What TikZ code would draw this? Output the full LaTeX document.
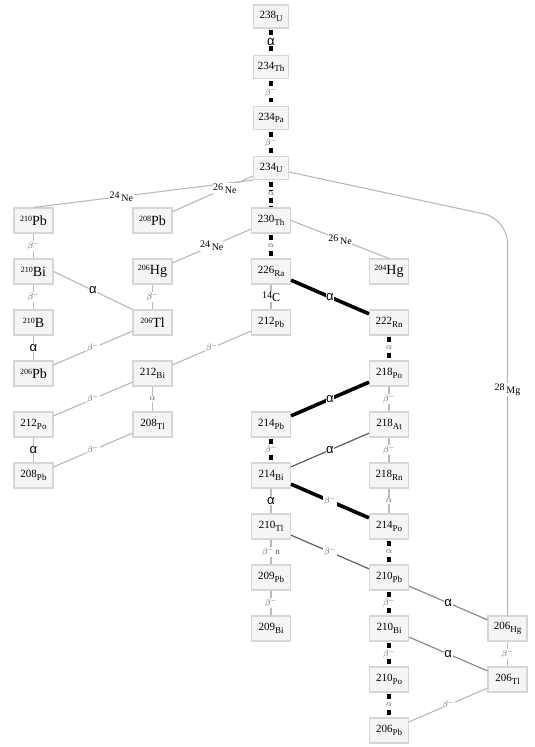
\documentclass[tikz,border=0pt]{standalone}
\usepackage{fontspec}
\setmainfont{Liberation Serif}
\newfontfamily\greekfont{Liberation Sans}
\definecolor{boxfill}{RGB}{245,245,245}
\definecolor{boxline}{RGB}{214,214,214}
\definecolor{faintline}{RGB}{185,185,185}
\definecolor{midline}{RGB}{140,140,140}
\definecolor{darkline}{RGB}{95,95,95}
\definecolor{lblgray}{RGB}{80,80,80}

% nuclide labels: mass number with lowered symbol, or raised mass number
\newcommand{\nuc}[2]{{\fontsize{11}{11}\selectfont #1}\raisebox{-2.5pt}{\fontsize{9}{9}\selectfont #2}}
\newcommand{\nucbig}[2]{\raisebox{4pt}{\fontsize{8}{8}\selectfont #1}{\fontsize{14}{14}\selectfont #2}}
% decay labels
\newcommand{\bdecay}{{\fontsize{9}{9}\selectfont$\beta^{-}$}}
\newcommand{\adecay}{{\fontsize{9}{9}\selectfont$\alpha$}}
\newcommand{\Adecay}{{\greekfont\fontsize{13}{13}\selectfont α}}
\newcommand{\cluster}[2]{\raisebox{3pt}{\fontsize{10}{10}\selectfont #1}\,{\fontsize{10}{10}\selectfont #2}}

\begin{document}
\begin{tikzpicture}[
  x=1pt, y=-1pt,
  nuclide/.style={draw=boxline, fill=boxfill, rectangle,
    minimum width=39pt, minimum height=25pt,
    inner sep=1pt, line width=1.1pt},
  topnuclide/.style={nuclide, minimum width=35pt, minimum height=23pt},
  mainpath/.style={draw=black, line width=4pt,
    dash pattern=on 5pt off 3pt, shorten >=1.5pt, shorten <=1.5pt},
  strong/.style={draw=black, line width=3.6pt},
  faint/.style={draw=faintline, line width=1.1pt},
  medium/.style={draw=midline, line width=1.2pt},
  dark/.style={draw=darkline, line width=1.2pt},
  lbl/.style={fill=white, inner sep=0.6pt, text=lblgray},
  lbla/.style={lbl, text=black}
]
\fill[white] (0,0) rectangle (535,747);
\useasboundingbox (0,0) rectangle (535,747);

% Main uranium chain, top part
\node[topnuclide] (u238) at (271,16.5) {\nuc{238}{U}};
\node[topnuclide] (th234) at (271,67) {\nuc{234}{Th}};
\node[topnuclide] (pa234) at (271,118) {\nuc{234}{Pa}};
\node[topnuclide] (u234) at (271,168) {\nuc{234}{U}};
\draw[mainpath] (u238) -- node[lbla]{\Adecay} (th234);
\draw[mainpath] (th234) -- node[lbl]{\bdecay} (pa234);
\draw[mainpath] (pa234) -- node[lbl]{\bdecay} (u234);

% Cluster decay side branches
\node[nuclide] (pb210a) at (33.5,220.5) {\nucbig{210}{Pb}};
\node[nuclide] (pb208a) at (152.5,220.5) {\nucbig{208}{Pb}};
\node[nuclide] (th230) at (271,220.5) {\nuc{230}{Th}};
\node[nuclide] (bi210a) at (33.5,271.5) {\nucbig{210}{Bi}};
\node[nuclide] (hg206a) at (152.5,271.5) {\nucbig{206}{Hg}};
\node[nuclide] (ra226) at (271,271.5) {\nuc{226}{Ra}};
\node[nuclide] (hg204) at (389,271.5) {\nucbig{204}{Hg}};
\node[nuclide] (b210) at (33.5,322.5) {\nucbig{210}{B}};
\node[nuclide] (tl206a) at (152.5,322.5) {\nucbig{206}{Tl}};
\node[nuclide] (pb212) at (271,322.5) {\nuc{212}{Pb}};
\node[nuclide] (rn222) at (389,322.5) {\nuc{222}{Rn}};
\node[nuclide] (pb206a) at (33.5,373.5) {\nucbig{206}{Pb}};
\node[nuclide] (bi212) at (152.5,373.5) {\nuc{212}{Bi}};
\node[nuclide] (po218) at (389,373.5) {\nuc{218}{Po}};
\node[nuclide] (po212) at (33.5,424.5) {\nuc{212}{Po}};
\node[nuclide] (tl208) at (152.5,424.5) {\nuc{208}{Tl}};
\node[nuclide] (pb214) at (271,424.5) {\nuc{214}{Pb}};
\node[nuclide] (at218) at (389,424.5) {\nuc{218}{At}};
\node[nuclide] (pb208b) at (33.5,475.5) {\nuc{208}{Pb}};
\node[nuclide] (bi214) at (271,475.5) {\nuc{214}{Bi}};
\node[nuclide] (rn218) at (389,475.5) {\nuc{218}{Rn}};

% Lower part of the chain
\node[nuclide] (tl210) at (271,526.5) {\nuc{210}{Tl}};
\node[nuclide] (po214) at (389,526.5) {\nuc{214}{Po}};
\node[nuclide] (pb209) at (271,577.5) {\nuc{209}{Pb}};
\node[nuclide] (pb210b) at (389,577.5) {\nuc{210}{Pb}};
\node[nuclide] (bi209) at (271,628.5) {\nuc{209}{Bi}};
\node[nuclide] (bi210b) at (389,628.5) {\nuc{210}{Bi}};
\node[nuclide] (hg206b) at (507.5,628.5) {\nuc{206}{Hg}};
\node[nuclide] (po210) at (389,679.5) {\nuc{210}{Po}};
\node[nuclide] (tl206b) at (507.5,679.5) {\nuc{206}{Tl}};
\node[nuclide] (pb206b) at (389,730.5) {\nuc{206}{Pb}};

% Connectors from 234U and 230Th
\draw[mainpath] (u234) -- node[lbl]{\adecay} (th230);
\draw[faint] (u234.south west) -- node[lbla, pos=0.6]{\cluster{24}{Ne}} (pb210a.north);
\draw[faint] (u234) -- node[lbla, pos=0.35]{\cluster{26}{Ne}} (pb208a);
\coordinate (mgbend) at (507.5,219);
\draw[faint, rounded corners=24pt] ([yshift=-4pt]u234.east) -- (mgbend)
  -- node[lbla, pos=0.43]{\cluster{28}{Mg}} (hg206b.north);
\draw[mainpath] (th230) -- node[lbl]{\adecay} (ra226);
\draw[faint] (th230) -- node[lbla]{\cluster{24}{Ne}} (hg206a);
\draw[faint] (th230.east) -- node[lbla]{\cluster{26}{Ne}} (hg204.north);

% Left branches
\draw[faint] (pb210a) -- node[lbl]{\bdecay} (bi210a);
\draw[faint] (bi210a) -- node[lbl]{\bdecay} (b210);
\draw[faint] (bi210a.east) -- node[lbla]{\Adecay} (tl206a.north west);
\draw[faint] (b210) -- node[lbla]{\Adecay} (pb206a);
\draw[faint] (hg206a) -- node[lbl]{\bdecay} (tl206a);
\draw[faint] (tl206a) -- node[lbl]{\bdecay} (pb206a);
\draw[faint] (ra226) -- node[lbla]{\raisebox{3pt}{\fontsize{10}{10}\selectfont 14}{\fontsize{12}{12}\selectfont C}} (pb212);
\draw[faint] (pb212) -- node[lbl]{\bdecay} (bi212);
\draw[faint] (bi212) -- node[lbl]{\bdecay} (po212);
\draw[faint] (bi212) -- node[lbl]{\adecay} (tl208);
\draw[faint] (po212) -- node[lbla]{\Adecay} (pb208b);
\draw[faint] (tl208) -- node[lbl]{\bdecay} (pb208b);

% Radium to lead
\draw[strong] (ra226) -- node[lbla]{\Adecay} (rn222);
\draw[mainpath] (rn222) -- node[lbl]{\adecay} (po218);
\draw[strong] (po218) -- node[lbla]{\Adecay} (pb214);
\draw[faint] (po218) -- node[lbl]{\bdecay} (at218);
\draw[dark] (at218) -- node[lbla]{\Adecay} (bi214);
\draw[faint] (at218) -- node[lbl]{\bdecay} (rn218);
\draw[mainpath] (pb214) -- node[lbl]{\bdecay} (bi214);
\draw[strong] (bi214) -- node[lbl]{\bdecay} (po214);
\draw[faint] (rn218) -- node[lbl]{\adecay} (po214);
\draw[faint] (bi214) -- node[lbla]{\Adecay} (tl210);
\draw[dark] (tl210) -- node[lbl]{\bdecay} (pb210b);
\draw[faint] (tl210) -- node[lbl]{{\fontsize{9}{9}\selectfont$\beta^{-}$\,n}} (pb209);
\draw[faint] (pb209) -- node[lbl]{\bdecay} (bi209);
\draw[mainpath] (po214) -- node[lbl]{\adecay} (pb210b);
\draw[mainpath] (pb210b) -- node[lbl]{\bdecay} (bi210b);
\draw[medium] (pb210b) -- node[lbla]{\Adecay} (hg206b);
\draw[medium] (bi210b) -- node[lbla]{\Adecay} (tl206b);
\draw[faint] (hg206b) -- node[lbl]{\bdecay} (tl206b);
\draw[mainpath] (bi210b) -- node[lbl]{\bdecay} (po210);
\draw[mainpath] (po210) -- node[lbl]{\adecay} (pb206b);
\draw[faint] (tl206b) -- node[lbl]{\bdecay} (pb206b);

\end{tikzpicture}
\end{document}
